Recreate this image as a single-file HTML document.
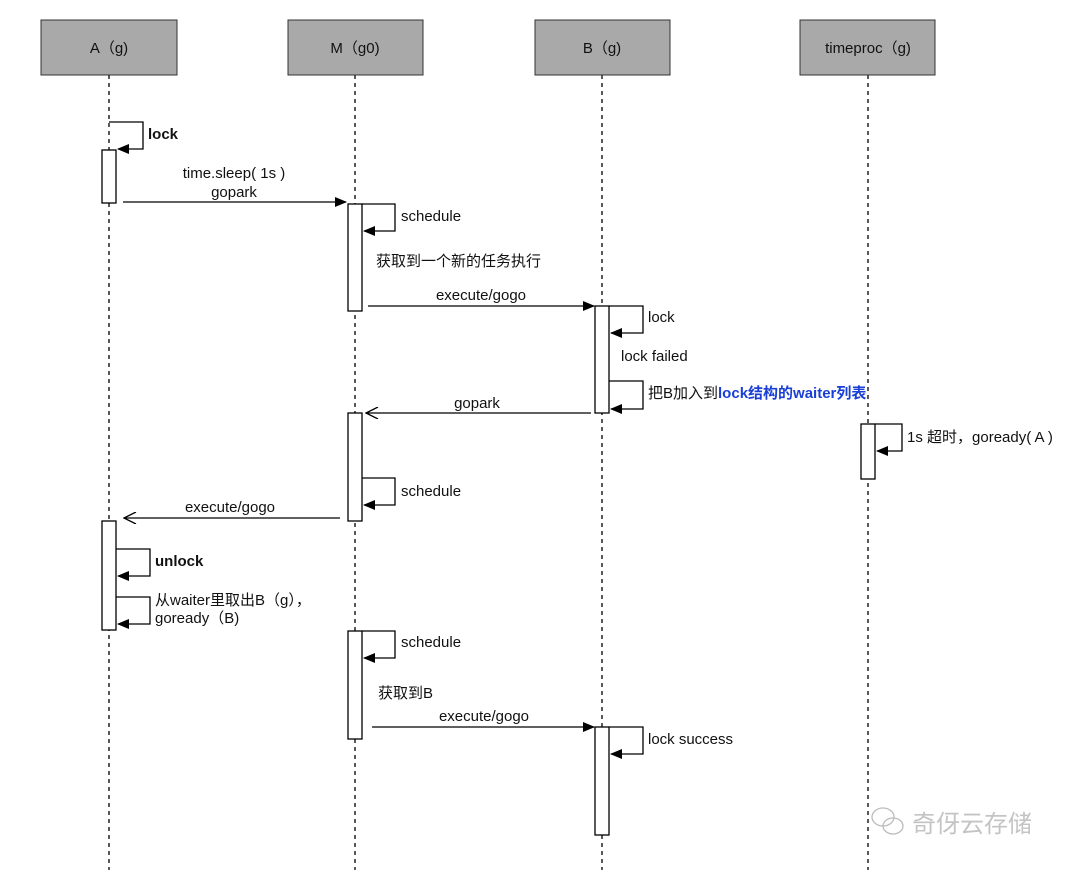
<!DOCTYPE html>
<html><head><meta charset="utf-8"><style>
html,body{margin:0;padding:0;background:#fff;}
svg text{font-family:"Liberation Sans","Noto Sans CJK SC",sans-serif;font-size:15px;fill:#111;}
</style></head><body>
<svg width="1080" height="870" viewBox="0 0 1080 870" xmlns="http://www.w3.org/2000/svg">
<defs>
<marker id="f" markerWidth="12" markerHeight="10" refX="11" refY="5" orient="auto" markerUnits="userSpaceOnUse"><path d="M0,0 L12,5 L0,10 Z" fill="#000"/></marker>
<marker id="o" markerWidth="14" markerHeight="12" refX="13" refY="6" orient="auto" markerUnits="userSpaceOnUse"><path d="M1,0 L13,6 L1,12" fill="none" stroke="#000" stroke-width="1.3"/></marker>
</defs>
<g stroke="#000" stroke-width="1.3" stroke-dasharray="4,4">
<line x1="109" y1="75" x2="109" y2="870"/><line x1="355" y1="75" x2="355" y2="870"/>
<line x1="602" y1="75" x2="602" y2="870"/><line x1="868" y1="75" x2="868" y2="870"/>
</g>
<g fill="#a9a9a9" stroke="#333" stroke-width="1">
<rect x="41" y="20" width="136" height="55"/><rect x="288" y="20" width="135" height="55"/>
<rect x="535" y="20" width="135" height="55"/><rect x="800" y="20" width="135" height="55"/>
</g>
<text x="109" y="53" text-anchor="middle">A（g)</text>
<text x="355" y="53" text-anchor="middle">M（g0)</text>
<text x="602" y="53" text-anchor="middle">B（g)</text>
<text x="868" y="53" text-anchor="middle">timeproc（g)</text>
<g fill="#fff" stroke="#000" stroke-width="1.3">
<rect x="102" y="150" width="14" height="53"/><rect x="102" y="521" width="14" height="109"/>
<rect x="348" y="204" width="14" height="107"/><rect x="348" y="413" width="14" height="108"/><rect x="348" y="631" width="14" height="108"/>
<rect x="595" y="306" width="14" height="107"/><rect x="595" y="727" width="14" height="108"/>
<rect x="861" y="424" width="14" height="55"/>
</g>
<g fill="none" stroke="#000" stroke-width="1.3">
<path d="M109,122 H143 V149 H118" marker-end="url(#f)"/>
<path d="M362,204 H395 V231 H364" marker-end="url(#f)"/>
<path d="M609,306 H643 V333 H611" marker-end="url(#f)"/>
<path d="M609,381 H643 V409 H611" marker-end="url(#f)"/>
<path d="M875,424 H902 V451 H877" marker-end="url(#f)"/>
<path d="M362,478 H395 V505 H364" marker-end="url(#f)"/>
<path d="M116,549 H150 V576 H118" marker-end="url(#f)"/>
<path d="M116,597 H150 V624 H118" marker-end="url(#f)"/>
<path d="M362,631 H395 V658 H364" marker-end="url(#f)"/>
<path d="M609,727 H643 V754 H611" marker-end="url(#f)"/>
<line x1="123" y1="202" x2="346" y2="202" marker-end="url(#f)"/>
<line x1="368" y1="306" x2="594" y2="306" marker-end="url(#f)"/>
<line x1="372" y1="727" x2="594" y2="727" marker-end="url(#f)"/>
<line x1="591" y1="413" x2="366" y2="413" marker-end="url(#o)"/>
<line x1="340" y1="518" x2="124" y2="518" marker-end="url(#o)"/>
</g>
<text x="148" y="139" font-weight="bold">lock</text>
<text x="234" y="178" text-anchor="middle">time.sleep( 1s )</text>
<text x="234" y="197" text-anchor="middle">gopark</text>
<text x="401" y="221">schedule</text>
<text x="376" y="266">获取到一个新的任务执行</text>
<text x="481" y="300" text-anchor="middle">execute/gogo</text>
<text x="648" y="322">lock</text>
<text x="621" y="361">lock failed</text>
<text x="648" y="398">把B加入到<tspan font-weight="bold" style="fill:#1a3fd6">lock结构的waiter列表</tspan></text>
<text x="477" y="408" text-anchor="middle">gopark</text>
<text x="907" y="442">1s 超时，goready( A )</text>
<text x="401" y="496">schedule</text>
<text x="230" y="512" text-anchor="middle">execute/gogo</text>
<text x="155" y="566" font-weight="bold">unlock</text>
<text x="155" y="605">从waiter里取出B（g），</text>
<text x="155" y="623">goready（B)</text>
<text x="401" y="647">schedule</text>
<text x="378" y="698">获取到B</text>
<text x="484" y="721" text-anchor="middle">execute/gogo</text>
<text x="648" y="744">lock success</text>
<g fill="none" stroke="#bbb" stroke-width="1.3">
<ellipse cx="883" cy="817" rx="11" ry="9"/><ellipse cx="893" cy="826" rx="10" ry="8"/>
</g>
<text x="912" y="832" style="font-size:24px;fill:#c4c4c4">奇伢云存储</text>
</svg>
</body></html>
